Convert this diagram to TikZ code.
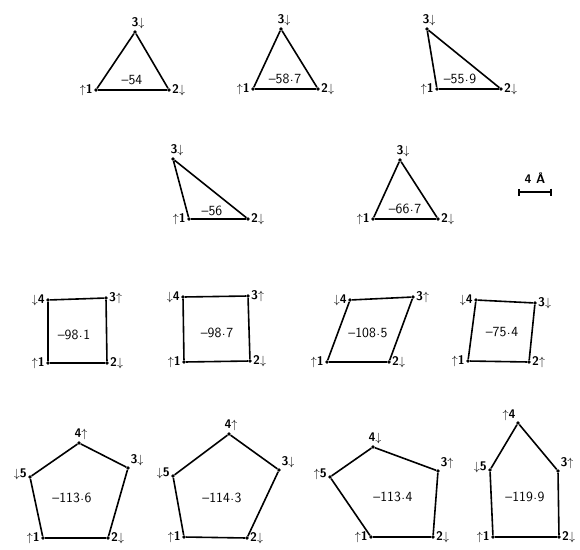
\documentclass[tikz,border=0pt]{standalone}
\usetikzlibrary{arrows.meta}
\newcommand\upa{$\uparrow$}
\newcommand\dna{$\downarrow$}
\newcommand\cdt{\kern0.5pt\raisebox{0.28ex}{.}\kern0.5pt}
\tikzset{
  vtx/.style={circle, fill, inner sep=0pt, minimum size=3.6pt},
  lbl/.style={font=\sffamily\bfseries\fontsize{12.5}{13}\selectfont, inner sep=1pt},
  val/.style={font=\sffamily\fontsize{14}{15}\selectfont, inner sep=1pt},
  edge/.style={line width=1.6pt, line join=round},
}
\begin{document}
\begin{tikzpicture}[x=1pt, y=-1pt]
  \useasboundingbox (0,0) rectangle (580,549);

  % Row 1: three triangles
  \node[vtx, label={[lbl]left:\upa1}] (a1) at (96,90) {};
  \node[vtx, label={[lbl]right:2\dna}] (a2) at (169,90) {};
  \node[vtx, label={[lbl,xshift=3pt]above:3\dna}] (a3) at (135,32) {};
  \draw[edge] (a1) -- (a2) -- (a3) -- (a1);
  \node[val] (a) at (132,80) {–54};

  \node[vtx, label={[lbl]left:\upa1}] (b1) at (253,89) {};
  \node[vtx, label={[lbl]right:2\dna}] (b2) at (318,89) {};
  \node[vtx, label={[lbl,xshift=3pt]above:3\dna}] (b3) at (281,29) {};
  \draw[edge] (b1) -- (b2) -- (b3) -- (b1);
  \node[val] (b) at (285,79) {–58\cdt7};

  \node[vtx, label={[lbl]left:\upa1}] (c1) at (437,89) {};
  \node[vtx, label={[lbl]right:2\dna}] (c2) at (501,89) {};
  \node[vtx, label={[lbl,xshift=2pt]above:3\dna}] (c3) at (427,29) {};
  \draw[edge] (c1) -- (c2) -- (c3) -- (c1);
  \node[val] (c) at (460,79) {–55\cdt9};

  % Row 2: two triangles and the scale bar
  \node[vtx, label={[lbl]left:\upa1}] (d1) at (189,219) {};
  \node[vtx, label={[lbl]right:2\dna}] (d2) at (248,219) {};
  \node[vtx, label={[lbl,xshift=4pt]above:3\dna}] (d3) at (173,159) {};
  \draw[edge] (d1) -- (d2) -- (d3) -- (d1);
  \node[val] (d) at (212,211) {–56};

  \node[vtx, label={[lbl]left:\upa1}] (e1) at (373,219) {};
  \node[vtx, label={[lbl]right:2\dna}] (e2) at (438,219) {};
  \node[vtx, label={[lbl,xshift=3pt]above:3\dna}] (e3) at (400,160) {};
  \draw[edge] (e1) -- (e2) -- (e3) -- (e1);
  \node[val] (e) at (405,209) {–66\cdt7};

  \coordinate (s1) at (518,192);
  \coordinate (s2) at (552,192);
  \draw[edge, {Bar[width=7pt]}-{Bar[width=7pt]}] (s1) -- (s2);
  \node[lbl] (sl) at (535,178) {4 Å};

  % Row 3: four quadrilaterals
  \node[vtx, label={[lbl]left:\upa1}] (f1) at (48,363) {};
  \node[vtx, label={[lbl]right:2\dna}] (f2) at (107,363) {};
  \node[vtx, label={[lbl]right:3\upa}] (f3) at (106,298) {};
  \node[vtx, label={[lbl]left:\dna4}] (f4) at (48,300) {};
  \draw[edge] (f1) -- (f2) -- (f3) -- (f4) -- (f1);
  \node[val] (f) at (74,335) {–98\cdt1};

  \node[vtx, label={[lbl]left:\upa1}] (g1) at (184,362) {};
  \node[vtx, label={[lbl]right:2\dna}] (g2) at (250,361) {};
  \node[vtx, label={[lbl]right:3\upa}] (g3) at (248,296) {};
  \node[vtx, label={[lbl]left:\dna4}] (g4) at (183,297) {};
  \draw[edge] (g1) -- (g2) -- (g3) -- (g4) -- (g1);
  \node[val] (g) at (217,333) {–98\cdt7};

  \node[vtx, label={[lbl]left:\upa1}] (h1) at (327,362) {};
  \node[vtx, label={[lbl]right:2\dna}] (h2) at (389,362) {};
  \node[vtx, label={[lbl]right:3\upa}] (h3) at (413,297) {};
  \node[vtx, label={[lbl]left:\dna4}] (h4) at (350,300) {};
  \draw[edge] (h1) -- (h2) -- (h3) -- (h4) -- (h1);
  \node[val] (h) at (368,333) {–108\cdt5};

  \node[vtx, label={[lbl]left:\upa1}] (i1) at (468,361) {};
  \node[vtx, label={[lbl]right:2\upa}] (i2) at (529,362) {};
  \node[vtx, label={[lbl]right:3\dna}] (i3) at (535,303) {};
  \node[vtx, label={[lbl]left:\dna4}] (i4) at (476,300) {};
  \draw[edge] (i1) -- (i2) -- (i3) -- (i4) -- (i1);
  \node[val] (i) at (502,332) {–75\cdt4};

  % Row 4: four pentagons
  \node[vtx, label={[lbl]left:\upa1}] (j1) at (43,538) {};
  \node[vtx, label={[lbl]right:2\dna}] (j2) at (108,538) {};
  \node[vtx, label={[lbl]above right:3\dna}] (j3) at (128,468) {};
  \node[vtx, label={[lbl,xshift=2pt]above:4\upa}] (j4) at (79,443) {};
  \node[vtx, label={[lbl,yshift=3pt]left:\dna5}] (j5) at (30,477) {};
  \draw[edge] (j1) -- (j2) -- (j3) -- (j4) -- (j5) -- (j1);
  \node[val] (j) at (72,498) {–113\cdt6};

  \node[vtx, label={[lbl]left:\upa1}] (k1) at (184,537) {};
  \node[vtx, label={[lbl]right:2\dna}] (k2) at (247,538) {};
  \node[vtx, label={[lbl]above right:3\dna}] (k3) at (279,470) {};
  \node[vtx, label={[lbl,xshift=2pt]above:4\upa}] (k4) at (229,434) {};
  \node[vtx, label={[lbl,yshift=3pt]left:\dna5}] (k5) at (173,476) {};
  \draw[edge] (k1) -- (k2) -- (k3) -- (k4) -- (k5) -- (k1);
  \node[val] (k) at (222,498) {–114\cdt3};

  \node[vtx, label={[lbl]left:\upa1}] (l1) at (371,537) {};
  \node[vtx, label={[lbl]right:2\dna}] (l2) at (433,537) {};
  \node[vtx, label={[lbl]above right:3\upa}] (l3) at (438,471) {};
  \node[vtx, label={[lbl,xshift=2pt]above:4\dna}] (l4) at (373,447) {};
  \node[vtx, label={[lbl,yshift=3pt]left:\upa5}] (l5) at (330,477) {};
  \draw[edge] (l1) -- (l2) -- (l3) -- (l4) -- (l5) -- (l1);
  \node[val] (l) at (393,497) {–113\cdt4};

  \node[vtx, label={[lbl]left:\upa1}] (m1) at (493,537) {};
  \node[vtx, label={[lbl]right:2\dna}] (m2) at (559,537) {};
  \node[vtx, label={[lbl]above right:3\upa}] (m3) at (558,471) {};
  \node[vtx, label={[lbl]above left:\upa4}] (m4) at (518,423) {};
  \node[vtx, label={[lbl,yshift=3pt]left:\dna5}] (m5) at (490,470) {};
  \draw[edge] (m1) -- (m2) -- (m3) -- (m4) -- (m5) -- (m1);
  \node[val] (m) at (525,497) {–119\cdt9};
\end{tikzpicture}
\end{document}
